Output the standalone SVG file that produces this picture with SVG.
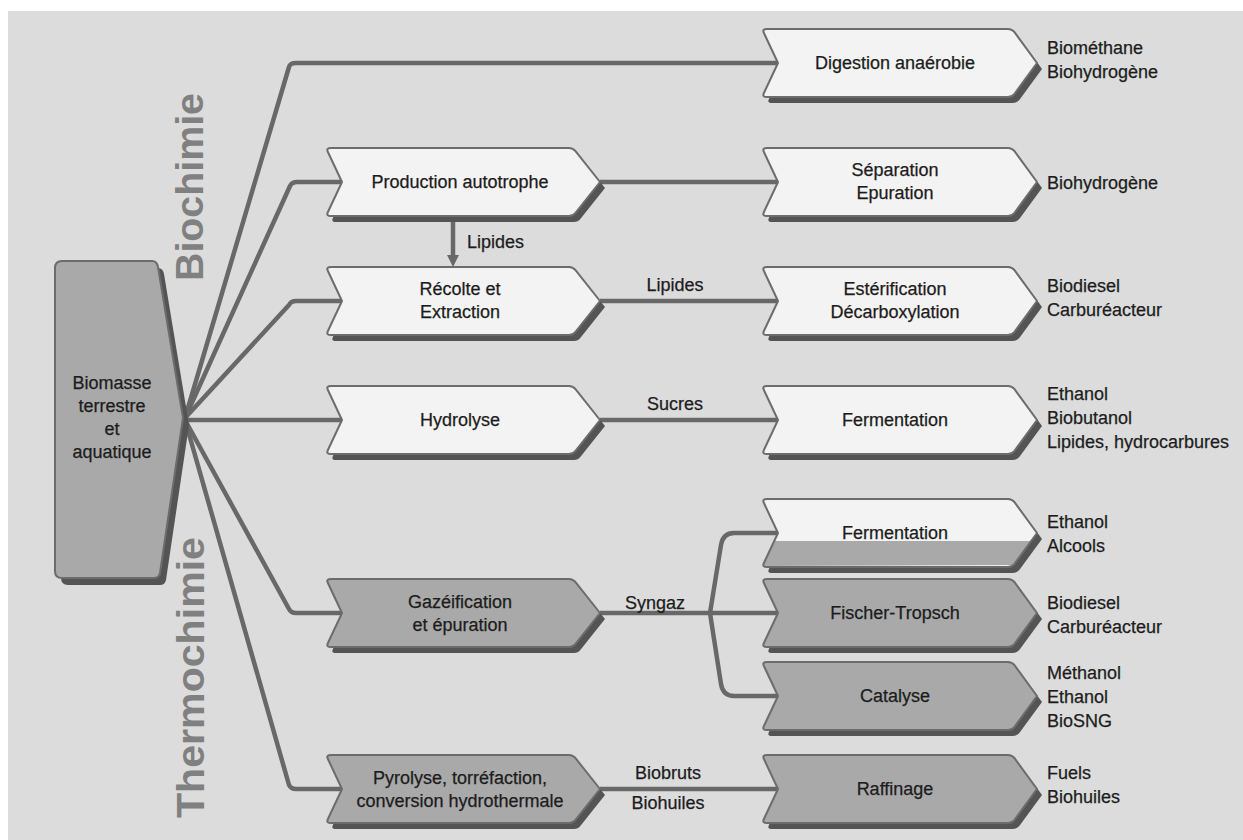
<svg xmlns="http://www.w3.org/2000/svg" width="1243" height="840" viewBox="0 0 1243 840">
<style>
.wn{fill:#f3f3f3;stroke:#6c6c6c;stroke-width:2;stroke-linejoin:round}
.gn{fill:#a9a9a9;stroke:#6c6c6c;stroke-width:2;stroke-linejoin:round}
.sh{fill:#545454}
.ln{fill:none;stroke:#686868;stroke-width:4.5;stroke-linejoin:round;stroke-linecap:butt}
.t{font-family:"Liberation Sans",Arial,sans-serif;font-size:18px;fill:#1c1c1c;stroke:#1c1c1c;stroke-width:0.25}
.c{text-anchor:middle}
.big{font-family:"Liberation Sans",Arial,sans-serif;font-size:39px;font-weight:bold;fill:#808080}
</style>
<defs>
<path id="L" d="M331,0 L569,0 Q573,0 575.5,3.2 L600,34 L575.5,64.8 Q573,68 569,68 L331,68 Q326,68 327.8,64.2 L342,34 L327.8,3.8 Q326,0 331,0 Z"/>
<path id="R" d="M767,0 L1008,0 Q1012,0 1014.5,3.2 L1037,34 L1014.5,64.8 Q1012,68 1008,68 L767,68 Q762,68 763.8,64.2 L778,34 L763.8,3.8 Q762,0 767,0 Z"/>
</defs>
<rect x="0" y="0" width="1243" height="840" fill="#ffffff"/>
<rect x="8" y="11" width="1235" height="829" fill="#dcdcdc"/>

<text class="big" transform="translate(203,281) rotate(-90)" textLength="188" lengthAdjust="spacingAndGlyphs">Biochimie</text>
<text class="big" transform="translate(204,818) rotate(-90)" textLength="281" lengthAdjust="spacingAndGlyphs">Thermochimie</text>

<g id="connectors">
<path class="ln" d="M185,418 L289,67 Q290,63 296,63 L778,63"/>
<path class="ln" d="M185,418 L290,186 Q292,182 297,182 L342,182"/>
<path class="ln" d="M185,418 L289,305 Q291,301 296,301 L342,301"/>
<path class="ln" d="M185,420 L342,420"/>
<path class="ln" d="M185,420 L289,609 Q291,613 296,613 L342,613"/>
<path class="ln" d="M185,420 L289,785 Q291,789 296,789 L342,789"/>
<path class="ln" d="M600,182 L778,182"/>
<path class="ln" d="M600,301 L778,301"/>
<path class="ln" d="M600,420 L778,420"/>
<path class="ln" d="M600,613 L778,613"/>
<path class="ln" d="M710,613 L721,545 Q723,533 734,533 L778,533"/>
<path class="ln" d="M710,613 L721,684 Q723,696 734,696 L778,696"/>
<path class="ln" d="M600,789 L778,789"/>
<path class="ln" d="M453,222 L453,257"/>
<polygon points="447,255 459,255 453,267" fill="#686868"/>
<text class="t" x="467" y="248">Lipides</text>
<text class="t c" x="675" y="291">Lipides</text>
<text class="t c" x="675" y="410">Sucres</text>
<text class="t c" x="655" y="609">Syngaz</text>
<text class="t c" x="668" y="779">Biobruts</text>
<text class="t c" x="668" y="809">Biohuiles</text>
</g>

<g id="biomasse">
<path class="sh" transform="translate(6,7)" d="M62,261 L152,261 Q157,261 158,267 L183,418 L160,573 Q159,578 154,578 L62,578 Q55,578 55,571 L55,268 Q55,261 62,261 Z"/>
<path class="gn" d="M62,261 L152,261 Q157,261 158,267 L183,418 L160,573 Q159,578 154,578 L62,578 Q55,578 55,571 L55,268 Q55,261 62,261 Z"/>
<text class="t c" x="112" y="389">Biomasse</text>
<text class="t c" x="112" y="412">terrestre</text>
<text class="t c" x="112" y="435">et</text>
<text class="t c" x="112" y="458">aquatique</text>
</g>

<g id="production">
<use href="#L" class="sh" transform="translate(5,154)"/>
<use href="#L" class="wn" transform="translate(0,148)"/>
<text class="t c" x="460" y="188">Production autotrophe</text>
</g>
<g id="recolte">
<use href="#L" class="sh" transform="translate(5,273)"/>
<use href="#L" class="wn" transform="translate(0,267)"/>
<text class="t c" x="460" y="295">Récolte et</text>
<text class="t c" x="460" y="318">Extraction</text>
</g>
<g id="hydrolyse">
<use href="#L" class="sh" transform="translate(5,392)"/>
<use href="#L" class="wn" transform="translate(0,386)"/>
<text class="t c" x="460" y="426">Hydrolyse</text>
</g>
<g id="gazeification">
<use href="#L" class="sh" transform="translate(5,585)"/>
<use href="#L" class="gn" transform="translate(0,579)"/>
<text class="t c" x="460" y="608">Gazéification</text>
<text class="t c" x="460" y="631">et épuration</text>
</g>
<g id="pyrolyse">
<use href="#L" class="sh" transform="translate(5,761)"/>
<use href="#L" class="gn" transform="translate(0,755)"/>
<text class="t c" x="460" y="784">Pyrolyse, torréfaction,</text>
<text class="t c" x="460" y="807">conversion hydrothermale</text>
</g>

<g id="digestion">
<use href="#R" class="sh" transform="translate(5,35)"/>
<use href="#R" class="wn" transform="translate(0,29)"/>
<text class="t c" x="895" y="69">Digestion anaérobie</text>
</g>
<g id="separation">
<use href="#R" class="sh" transform="translate(5,154)"/>
<use href="#R" class="wn" transform="translate(0,148)"/>
<text class="t c" x="895" y="176">Séparation</text>
<text class="t c" x="895" y="199">Epuration</text>
</g>
<g id="esterification">
<use href="#R" class="sh" transform="translate(5,273)"/>
<use href="#R" class="wn" transform="translate(0,267)"/>
<text class="t c" x="895" y="295">Estérification</text>
<text class="t c" x="895" y="318">Décarboxylation</text>
</g>
<g id="fermentation1">
<use href="#R" class="sh" transform="translate(5,392)"/>
<use href="#R" class="wn" transform="translate(0,386)"/>
<text class="t c" x="895" y="426">Fermentation</text>
</g>
<g id="fermentation2">
<use href="#R" class="sh" transform="translate(5,505)"/>
<use href="#R" fill="#f3f3f3" transform="translate(0,499)"/>
<polygon points="774.2,541 1031,541 1014,565 763,566" fill="#a9a9a9"/>
<use href="#R" fill="none" stroke="#6c6c6c" stroke-width="2" stroke-linejoin="round" transform="translate(0,499)"/>
<text class="t c" x="895" y="539">Fermentation</text>
</g>
<g id="fischer">
<use href="#R" class="sh" transform="translate(5,585)"/>
<use href="#R" class="gn" transform="translate(0,579)"/>
<text class="t c" x="895" y="619">Fischer-Tropsch</text>
</g>
<g id="catalyse">
<use href="#R" class="sh" transform="translate(5,668)"/>
<use href="#R" class="gn" transform="translate(0,662)"/>
<text class="t c" x="895" y="702">Catalyse</text>
</g>
<g id="raffinage">
<use href="#R" class="sh" transform="translate(5,761)"/>
<use href="#R" class="gn" transform="translate(0,755)"/>
<text class="t c" x="895" y="795">Raffinage</text>
</g>

<g id="outputs">
<text class="t" x="1047" y="54">Biométhane</text>
<text class="t" x="1047" y="78">Biohydrogène</text>
<text class="t" x="1047" y="189">Biohydrogène</text>
<text class="t" x="1047" y="292">Biodiesel</text>
<text class="t" x="1047" y="316">Carburéacteur</text>
<text class="t" x="1047" y="400">Ethanol</text>
<text class="t" x="1047" y="424">Biobutanol</text>
<text class="t" x="1047" y="448">Lipides, hydrocarbures</text>
<text class="t" x="1047" y="528">Ethanol</text>
<text class="t" x="1047" y="552">Alcools</text>
<text class="t" x="1047" y="609">Biodiesel</text>
<text class="t" x="1047" y="633">Carburéacteur</text>
<text class="t" x="1047" y="679">Méthanol</text>
<text class="t" x="1047" y="703">Ethanol</text>
<text class="t" x="1047" y="727">BioSNG</text>
<text class="t" x="1047" y="779">Fuels</text>
<text class="t" x="1047" y="803">Biohuiles</text>
</g>
</svg>
